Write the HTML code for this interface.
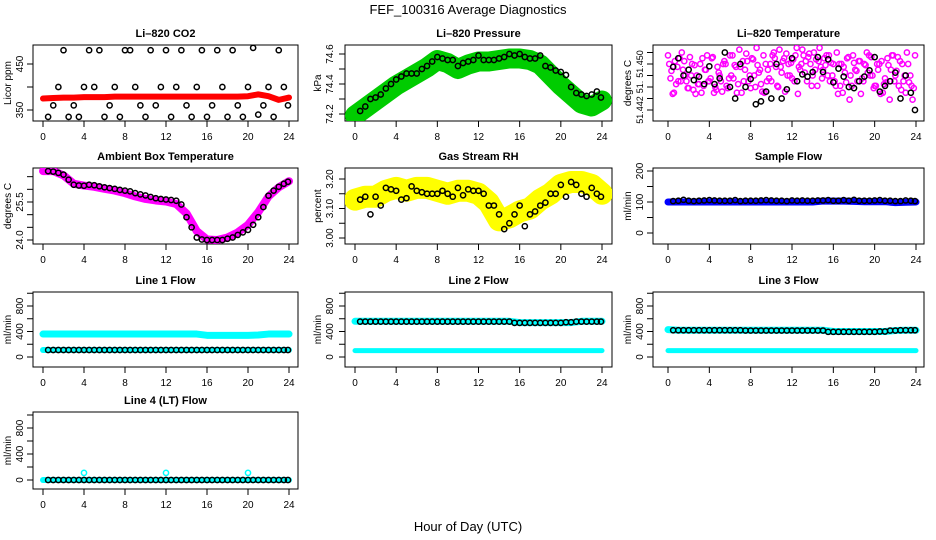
<!DOCTYPE html>
<html><head><meta charset="utf-8"><style>
html,body{margin:0;padding:0;background:#fff;}
svg{display:block;font-family:"Liberation Sans",sans-serif;}
</style></head><body>
<svg id="c" width="936" height="540" viewBox="0 0 936 540">
<text x="468" y="14" text-anchor="middle" font-size="13">FEF_100316  Average Diagnostics</text>
<text x="468" y="531" text-anchor="middle" font-size="13">Hour of Day (UTC)</text>
</svg>
<script>
// ---- data ----
const xTicks = [0,4,8,12,16,20,24];
const hours = [0.5,1,1.5,2,2.5,3,3.5,4,4.5,5,5.5,6,6.5,7,7.5,8,8.5,9,9.5,10,10.5,11,11.5,12,12.5,13,13.5,14,14.5,15,15.5,16,16.5,17,17.5,18,18.5,19,19.5,20,20.5,21,21.5,22,22.5,23,23.5,23.9];
const hourly = [0,1,2,3,4,5,6,7,8,9,10,11,12,13,14,15,16,17,18,19,20,21,22,23,24];

const co2Black = [335,360,400,480,335,360,335,400,480,400,480,335,360,400,335,480,480,400,360,335,480,360,400,480,335,400,480,360,335,400,480,335,360,480,400,335,480,360,335,400,485,340,360,400,335,480,400,360];
const co2Red = [375,376,377,377,378,378,378,379,379,379,379,379,379,379,379,379,379,379,379,379,380,384,380,372,377];

const pressGreen = [74.19,74.24,74.29,74.34,74.39,74.43,74.47,74.51,74.56,74.54,74.5,74.53,74.55,74.55,74.56,74.57,74.57,74.56,74.53,74.46,74.39,74.33,74.27,74.25,74.29];
const pressBlack = [74.22,74.25,74.3,74.31,74.33,74.37,74.4,74.43,74.45,74.47,74.47,74.47,74.5,74.52,74.55,74.58,74.57,74.56,74.56,74.52,74.54,74.55,74.56,74.59,74.56,74.56,74.56,74.57,74.58,74.6,74.59,74.6,74.58,74.57,74.57,74.59,74.52,74.51,74.49,74.48,74.46,74.38,74.34,74.33,74.32,74.33,74.35,74.31];

const tempMagenta = [51.4515,51.4488,51.4505,51.4470,51.4520,51.4480,51.4458,51.4500,51.4448,51.4465,51.4510,51.4490,51.4470,51.4512,51.4455,51.4480,51.4500,51.4462,51.4515,51.4475,51.4450,51.4495,51.4470,51.4505,51.4458,51.4480,51.4498,51.4465,51.4450,51.4490,51.4470,51.4510,51.4460,51.4485,51.4452,51.4500,51.4475,51.4515,51.4495,51.4525,51.4505,51.4518,51.4480,51.4508,51.4528,51.4490,51.4515,51.4470,51.4500,51.4520,51.4462,51.4495,51.4510,51.4480,51.4502,51.4470,51.4448,51.4500,51.4485,51.4512,51.4462,51.4490,51.4505,51.4475,51.4498,51.4515,51.4480,51.4462,51.4500,51.4450,51.4468,51.4438];
const tempBlack = [51.4495,51.4510,51.4480,51.4490,51.4472,51.4478,51.4465,51.4496,51.4465,51.4475,51.4520,51.4460,51.4440,51.4500,51.4460,51.4474,51.4430,51.4435,51.4452,51.4440,51.4500,51.4440,51.4456,51.4510,51.4470,51.4482,51.4478,51.4486,51.4512,51.4486,51.4508,51.4468,51.4492,51.4478,51.4460,51.4458,51.4470,51.4478,51.4489,51.4512,51.4452,51.4462,51.4470,51.4485,51.4440,51.4480,51.4450,51.4420];

const ambMagenta = [26.72,26.72,26.55,26.22,26.15,26.1,26.02,25.95,25.85,25.72,25.62,25.56,25.52,25.42,25.05,24.35,24.02,24.0,24.1,24.3,24.6,25.1,25.72,26.08,26.32];
const ambBlack = [26.72,26.7,26.65,26.58,26.38,26.18,26.15,26.14,26.18,26.16,26.12,26.08,26.05,26.02,25.98,25.95,25.92,25.85,25.8,25.76,25.7,25.65,25.62,25.6,25.58,25.55,25.4,24.9,24.5,24.1,24.02,24.0,24.0,24.0,24.0,24.05,24.1,24.2,24.3,24.4,24.6,24.9,25.3,25.75,25.95,26.1,26.22,26.3];

const rhYellow = [3.13,3.14,3.14,3.16,3.17,3.16,3.17,3.17,3.16,3.15,3.16,3.16,3.15,3.12,3.06,3.07,3.09,3.10,3.13,3.15,3.18,3.19,3.19,3.18,3.15];
const rhBlack = [3.13,3.14,3.08,3.14,3.11,3.17,3.165,3.16,3.13,3.135,3.175,3.16,3.155,3.15,3.15,3.15,3.16,3.15,3.14,3.17,3.145,3.165,3.16,3.16,3.15,3.11,3.11,3.08,3.03,3.05,3.08,3.11,3.04,3.08,3.09,3.11,3.12,3.15,3.15,3.18,3.14,3.19,3.18,3.15,3.14,3.17,3.15,3.14];

const sampleBlue = [100,100,100,100,100,100,100,100,100,100,100,100,100,100,100,103,103,103,102,101,101,101,98,99,100];
const sampleBlack = [103,104,107,104,103,104,105,106,105,104,104,104,106,103,104,104,104,105,106,105,104,104,103,105,104,105,104,104,105,105,106,104,104,106,104,107,104,104,104,105,106,104,104,103,103,105,104,103];

const l1Cyan = [360,360,360,360,360,360,360,360,360,360,360,360,360,360,360,360,340,340,340,340,340,345,360,360,360];
const l1Cyan2 = [110,110,110,110,110,110,110,110,110,110,110,110,110,110,110,110,110,110,110,110,110,110,110,110,110];
const l1Black = [110,110,110,110,110,110,110,110,110,110,110,110,110,110,110,110,110,110,110,110,110,110,110,110,110];
const l2Cyan = [560,560,560,560,560,560,560,560,560,560,560,560,560,560,560,560,540,540,540,540,540,540,560,560,560];
const l2Cyan2 = [100,100,100,100,100,100,100,100,100,100,100,100,100,100,100,100,100,100,100,100,100,100,100,100,100];
const l2Black = [555,555,555,555,555,555,555,555,555,555,555,555,555,555,555,555,535,535,535,535,535,545,555,555,555];
const l3Cyan = [430,420,420,420,420,420,420,420,420,420,420,420,420,420,420,420,400,400,400,400,400,400,415,420,420];
const l3Cyan2 = [100,100,100,100,100,100,100,100,100,100,100,100,100,100,100,100,100,100,100,100,100,100,100,100,100];
const l3Black = [420,420,420,420,420,420,420,420,415,415,415,415,415,415,415,415,395,395,395,395,395,400,415,420,420];
const l4Cyan = [0,0,0,0,0,0,0,0,0,0,0,0,0,0,0,0,0,0,0,0,0,0,0,0,0];
const l4Black = [0,0,0,0,0,0,0,0,0,0,0,0,0,0,0,0,0,0,0,0,0,0,0,0,0];
const l4OutHours = [4,12,20];
const l4OutVals = [110,110,110];

// ---- drawing ----
const svg = document.getElementById('c');
const NS = 'http://www.w3.org/2000/svg';
function mk(tag, attrs, parent){
  const e = document.createElementNS(NS, tag);
  for (const k in attrs) e.setAttribute(k, attrs[k]);
  (parent||svg).appendChild(e);
  return e;
}
const cols = [
  {bl:33, br:298, x0:43, x24:289, lab:11, tl:23},
  {bl:345, br:612, x0:355, x24:602, lab:321, tl:333},
  {bl:653, br:924, x0:668, x24:916, lab:631, tl:643}
];
const rows = [{t:45,b:121},{t:168,b:244},{t:292,b:367},{t:412,b:489}];

function panel(name, title, ci, ri, ylab, vA, yA, vB, yB, ticks, tickLabels, tfs){
  const c = cols[ci], r = rows[ri];
  const g = mk('g', {});
  
  
  const xs = h => c.x0 + (c.x24 - c.x0) * h / 24;
  const ys = v => yA + (yB - yA) * (v - vA) / (vB - vA);
  const clipId = 'clip' + ci + ri;
  const cp = mk('clipPath', {id: clipId}, g);
  mk('rect', {x:c.bl, y:r.t, width:c.br-c.bl, height:r.b-r.t}, cp);
  const tt = mk('text', {x:(c.bl+c.br)/2, y:r.t-8, 'text-anchor':'middle', 'font-size':11, 'font-weight':'bold'}, g);
  tt.textContent = title;
  
  
  const box = mk('rect', {x:c.bl, y:r.t, width:c.br-c.bl, height:r.b-r.t, fill:'none', stroke:'#000', 'stroke-width':1}, g);
  
  
  xTicks.forEach(h => {
    mk('line', {x1:xs(h), x2:xs(h), y1:r.b, y2:r.b+6, stroke:'#000'}, g);
    const t = mk('text', {x:xs(h), y:r.b+19, 'text-anchor':'middle', 'font-size':10}, g);
    t.textContent = h;
    
    
  });
  ticks.forEach((v,i) => {
    const y = ys(v);
    if (y < r.t-1 || y > r.b+1) return;
    mk('line', {x1:c.bl-6, x2:c.bl, y1:y, y2:y, stroke:'#000'}, g);
    if (tickLabels[i] !== '') {
      const t = mk('text', {x:c.tl, y:y, 'text-anchor':'middle', 'font-size':tfs||10, transform:`rotate(-90 ${c.tl} ${y})`}, g);
      t.textContent = tickLabels[i];
      
      
    }
  });
  const ym = (r.t + r.b)/2;
  const yl = mk('text', {x:c.lab, y:ym, 'text-anchor':'middle', 'font-size':10, transform:`rotate(-90 ${c.lab} ${ym})`}, g);
  yl.textContent = ylab;
  
  
  const inner = mk('g', {'clip-path':`url(#${clipId})`}, g);
  return {
    band(hs, vals, color, w, nm){
      const p = mk('polyline', {points: hs.map((h,i)=>xs(h)+','+ys(vals[i])).join(' '), fill:'none', stroke:color, 'stroke-width':w, 'stroke-linejoin':'round', 'stroke-linecap':'round'}, inner);
      
      
    },
    pts(hs, vals, color, nm, rad){
      hs.forEach((h,i) => {
        const e = mk('circle', {cx:xs(h), cy:ys(vals[i]), r:rad||2.6, fill:'none', stroke:color, 'stroke-width':1.5}, inner);
        
        
      });
    }
  };
}

// CO2
let p = panel('panel-co2','Li\u2013820 CO2',0,0,'Licor ppm',350,110,450,64,[350,400,450],['350','','450']);
p.band(hourly, co2Red, '#ff0000', 6, 'co2-red-series');
p.pts(hours, co2Black, '#000', 'co2-point');

// Pressure
p = panel('panel-pressure','Li\u2013820 Pressure',1,0,'kPa',74.2,114,74.6,54,[74.2,74.3,74.4,74.5,74.6],['74.2','','74.4','','74.6']);
p.band(hourly, pressGreen, '#00cc00', 20, 'pressure-green-band');
p.pts(hours, pressBlack, '#000', 'pressure-point');

// Li-820 temperature
const tmH = tempMagenta.map((v,i)=> i/3);
p = panel('panel-li820-temp','Li\u2013820 Temperature',2,0,'degrees C',51.442,110,51.450,64,[51.442,51.444,51.446,51.448,51.450,51.452],['51.442','','51.','','51.450',''],9);
p.pts(tmH, tempMagenta, '#ff00ff', 'temp-magenta-point', 2.6);
p.pts(tmH.map(h=>h+0.12), tempMagenta.map((v,i)=>tempMagenta[(i+7)%tempMagenta.length]), '#ff00ff', 'temp-magenta-point', 2.6);
p.pts(tmH.map(h=>h+0.24), tempMagenta.map((v,i)=>tempMagenta[(i+19)%tempMagenta.length]), '#ff00ff', 'temp-magenta-point', 2.6);
p.pts(hours, tempBlack, '#000', 'temp-black-point');

// Ambient
p = panel('panel-ambient','Ambient Box Temperature',0,1,'degrees C',24.0,240,25.5,202,[24.0,24.5,25.0,25.5,26.0,26.5],['24.0','','','25.5','','']);
p.band(hourly, ambMagenta, '#ff00ff', 8, 'ambient-magenta-band');
p.pts(hours, ambBlack, '#000', 'ambient-point');

// RH
p = panel('panel-rh','Gas Stream RH',1,1,'percent',3.00,238,3.20,179,[3.00,3.05,3.10,3.15,3.20],['3.00','','3.10','','3.20']);
p.band(hourly, rhYellow, '#ffff00', 22, 'rh-yellow-band');
p.pts(hours, rhBlack, '#000', 'rh-point');

// Sample flow
p = panel('panel-sample-flow','Sample Flow',2,1,'ml/min',0,233,200,171,[0,50,100,150,200],['0','','100','','200']);
p.band(hourly, sampleBlue, '#0000ff', 7, 'sample-blue-band');
p.pts(hours, sampleBlack, '#000', 'sample-point');

const flowTicks = [0,200,400,600,800,1000];
const flowLabels = ['0','','400','','800',''];
// Line 1
p = panel('panel-line1','Line 1 Flow',0,2,'ml/min',0,357,800,306,flowTicks,flowLabels);
p.band(hourly, l1Cyan, '#00ffff', 7, 'line1-cyan-band');
p.band(hourly, l1Cyan2, '#00ffff', 6, 'line1-cyan-low');
p.pts(hours, hours.map((h,i)=>l1Black[Math.round(h)]), '#000', 'line1-point');
// Line 2
p = panel('panel-line2','Line 2 Flow',1,2,'ml/min',0,357,800,306,flowTicks,flowLabels);
p.band(hourly, l2Cyan, '#00ffff', 7, 'line2-cyan-band');
p.band(hourly, l2Cyan2, '#00ffff', 5, 'line2-cyan-low');
p.pts(hours, hours.map((h,i)=>l2Black[Math.round(h)]), '#000', 'line2-point');
// Line 3
p = panel('panel-line3','Line 3 Flow',2,2,'ml/min',0,357,800,306,flowTicks,flowLabels);
p.band(hourly, l3Cyan, '#00ffff', 7, 'line3-cyan-band');
p.band(hourly, l3Cyan2, '#00ffff', 5, 'line3-cyan-low');
p.pts(hours, hours.map((h,i)=>l3Black[Math.round(h)]), '#000', 'line3-point');
// Line 4
p = panel('panel-line4','Line 4 (LT) Flow',0,3,'ml/min',0,480,800,428,flowTicks,flowLabels);
p.band(hourly, l4Cyan, '#00ffff', 6, 'line4-cyan-band');
p.pts(l4OutHours, l4OutVals, '#00ffff', 'line4-outlier');
p.pts(hours, hours.map((h,i)=>l4Black[Math.round(h)]), '#000', 'line4-point');
</script>
</body></html>
